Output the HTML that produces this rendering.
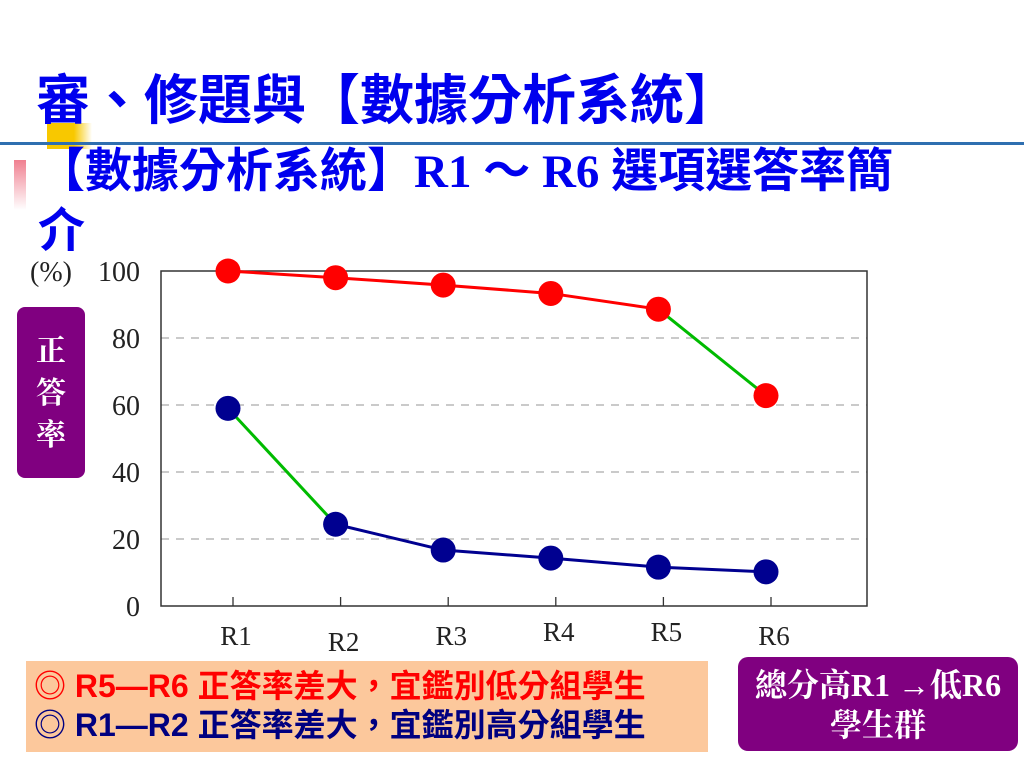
<!DOCTYPE html>
<html><head><meta charset="utf-8"><style>
body{margin:0;width:1024px;height:768px;background:#fff;position:relative;overflow:hidden;font-family:"Liberation Serif","Noto Serif CJK SC","Noto Sans CJK TC",serif}
.t{position:absolute;color:#0000ee;font-weight:bold;font-family:"Liberation Serif","Noto Sans CJK TC",sans-serif;white-space:nowrap}
</style></head><body>
<div style="position:absolute;left:47px;top:123px;width:45px;height:26px;background:linear-gradient(90deg,#f8c800 60%,#fff0);"></div>
<div style="position:absolute;left:0;top:142px;width:1024px;height:3px;background:#2f6fb0"></div>
<div style="position:absolute;left:14px;top:160px;width:12px;height:50px;background:linear-gradient(180deg,#f08090,#fff0)"></div>
<div class="t" style="left:36px;top:68px;font-size:54px;line-height:66px">審、修題與【數據分析系統】</div>
<div class="t" style="left:38px;top:142px;font-size:47px;line-height:60px">【數據分析系統】R1 ～ R6 選項選答率簡<br>介</div>
<div style="position:absolute;left:17px;top:307px;width:68px;height:171px;background:#800080;border-radius:8px;color:#fff;font-size:30px;line-height:42px;text-align:center;padding-top:20px;box-sizing:border-box;font-weight:bold;font-family:'Noto Serif CJK SC',serif">正<br>答<br>率</div>
<svg id="chart" width="1024" height="660" style="position:absolute;left:0;top:0"></svg>
<div style="position:absolute;left:26px;top:661px;width:682px;height:91px;background:#fcc89c;font-family:'Liberation Sans','Noto Sans CJK TC',sans-serif;font-weight:bold;font-size:32px;line-height:39px;padding:6px 0 0 8px;box-sizing:border-box;white-space:nowrap">
<div style="color:#ff0000">◎ R5—R6 正答率差大，宜鑑別低分組學生</div>
<div style="color:#000080">◎ R1—R2 正答率差大，宜鑑別高分組學生</div></div>
<div style="position:absolute;left:738px;top:657px;width:280px;height:94px;background:#800080;border-radius:10px;color:#fff;font-size:32px;line-height:40px;text-align:center;padding-top:8px;box-sizing:border-box;font-weight:bold;white-space:nowrap;font-family:'Liberation Serif','Noto Serif CJK SC',serif">總分高R1 →低R6<br>學生群</div>
<script>
const categories=["R1","R2","R3","R4","R5","R6"];
const highValues=[100,98,95.8,93.3,88.6,62.8];
const lowValues=[59,24.4,16.7,14.3,11.6,10.2];
const yTicks=[0,20,40,60,80,100];
const svg=document.getElementById('chart');
const NS='http://www.w3.org/2000/svg';
const L=161,R=867,T=271,B=606;
const y=v=>B-(B-T)*v/100;
const x=i=>228+107.6*i;
function mk(tag,attrs,name){const e=document.createElementNS(NS,tag);for(const k in attrs)e.setAttribute(k,attrs[k]);


svg.appendChild(e);return e;}
yTicks.forEach(t=>{
 if(t>0&&t<100)mk('line',{x1:L,x2:R,y1:y(t),y2:y(t),stroke:'#aaa','stroke-width':1.3,'stroke-dasharray':'8,7'},'gridline');
 const tx=mk('text',{x:140,y:y(t)+10,'text-anchor':'end','font-size':28,fill:'#222','font-family':'Liberation Serif'},'y-tick-label');tx.textContent=t;
});
const u=mk('text',{x:30,y:y(100)+10,'font-size':28,fill:'#222','font-family':'Liberation Serif'},'y-unit');u.textContent='(%)';
mk('rect',{x:L,y:T,width:R-L,height:B-T,fill:'none',stroke:'#333','stroke-width':1.5},'plot-frame');
const lo=[0,6,0,-4,-4,0];
categories.forEach((c,i)=>{
 mk('line',{x1:x(i)+5,x2:x(i)+5,y1:B,y2:B-9,stroke:'#333','stroke-width':1.3},'x-tick');
 const tx=mk('text',{x:x(i)+8,y:645+lo[i],'text-anchor':'middle','font-size':27,fill:'#222','font-family':'Liberation Serif'},'x-tick-label');tx.textContent=c;
});
function series(vals,color,greenSeg,name){
 for(let i=0;i<vals.length-1;i++)
  mk('line',{x1:x(i),y1:y(vals[i]),x2:x(i+1),y2:y(vals[i+1]),stroke:i===greenSeg?'#00bb00':color,'stroke-width':3},name+'-segment');
 vals.forEach((v,i)=>mk('circle',{cx:x(i),cy:y(v),r:12.5,fill:color},name+'-point'));
}
series(highValues,'#ff0000',4,'high-group');
series(lowValues,'#000090',0,'low-group');
</script>
</body></html>
